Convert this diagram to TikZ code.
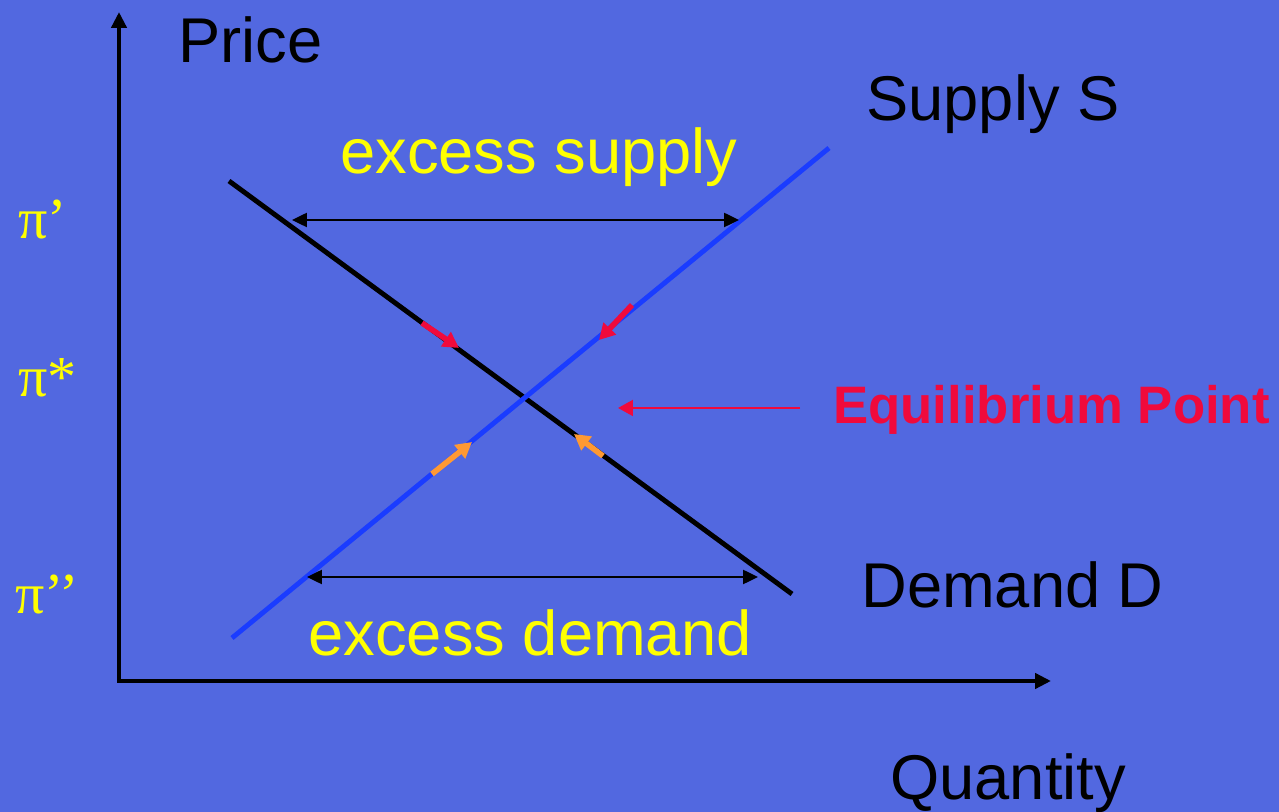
\documentclass[tikz,border=0pt]{standalone}
\usepackage{fontspec}
\setmainfont{Liberation Sans}
\newfontfamily\greekfont{Liberation Serif}
\usetikzlibrary{arrows.meta}
\definecolor{slide}{HTML}{5268E0}
\definecolor{supplyblue}{HTML}{1A3CFF}
\definecolor{hotred}{HTML}{F00A3C}
\definecolor{softorange}{HTML}{FF9933}
\definecolor{labelyellow}{HTML}{FFFF00}

\begin{document}
\begin{tikzpicture}[
    x=0.02cm, y=0.02cm,
    axis/.style={draw=black, line width=2.6pt, -{Triangle[length=9pt,width=8.5pt]}},
    curve/.style={line width=2.8pt},
    gap/.style={draw=black, line width=1.2pt, {Triangle[length=8.5pt,width=8pt]}-{Triangle[length=8.5pt,width=8pt]}},
    nudge/.style={line width=3.2pt, -{Triangle[length=9pt,width=9.5pt]}},
    big/.style={font=\fontsize{36}{40}\selectfont, inner sep=0pt},
    price/.style={text=labelyellow, font=\greekfont\fontsize{33}{36}\selectfont, inner sep=0pt},
]
\fill[slide] (0,0) rectangle (1279,812);
\useasboundingbox (0,0) rectangle (1279,812);
% axes
\coordinate (O) at (119,131);
\coordinate (top) at (119,800);
\coordinate (right) at (1051,131);
\draw[axis] (119,133) -- (top);
\draw[axis] (117,131) -- (right);
% demand and supply
\coordinate (D1) at (229,631);
\coordinate (D2) at (792,218);
\coordinate (S1) at (232,174);
\coordinate (S2) at (829,664);
\draw[curve, black] (D1) -- (D2);
\draw[curve, supplyblue] (S1) -- (S2);
% excess supply / demand gaps
\coordinate (esL) at (292,592);
\coordinate (esR) at (739,592);
\coordinate (edL) at (307,235);
\coordinate (edR) at (758,235);
\draw[gap] (esL) -- (esR);
\draw[gap] (edL) -- (edR);
% adjustment arrows
\coordinate (r1a) at (422,489); \coordinate (r1b) at (459,464);
\coordinate (r2a) at (632,507); \coordinate (r2b) at (599,472);
\coordinate (o1a) at (432,338); \coordinate (o1b) at (472,370);
\coordinate (o2a) at (603,356); \coordinate (o2b) at (574,378);
\draw[nudge, hotred] (r1a) -- (r1b);
\draw[nudge, hotred] (r2a) -- (r2b);
\draw[nudge, softorange] (o1a) -- (o1b);
\draw[nudge, softorange] (o2a) -- (o2b);
% labels
\node[big, anchor=base west] (price) at (178,749) {Price};
\node[big, anchor=base west] (quantity) at (890,12) {Quantity};
\node[big, anchor=base west] (supply) at (866,691) {Supply S};
\node[big, anchor=base west] (demand) at (861,204) {Demand D};
\node[big, text=labelyellow] (exsup) at (539,655) {excess supply};
\node[big, text=labelyellow] (exdem) at (530,179) {excess demand};
\node[price, anchor=base west] (p1) at (18,573) {π’};
\node[price, anchor=base west] (p2) at (18,415) {π*};
\node[price, anchor=base west] (p3) at (15,198) {π’’};
\node[text=hotred, font=\bfseries\fontsize{30}{34}\selectfont, inner sep=0pt, anchor=west] (equil) at (833,402) {Equilibrium Point};
\coordinate (eqtip) at (618,404);
\draw[hotred, line width=1.4pt, -{Triangle[length=8.5pt,width=9pt]}] (800,404) -- (eqtip);
\end{tikzpicture}
\end{document}
